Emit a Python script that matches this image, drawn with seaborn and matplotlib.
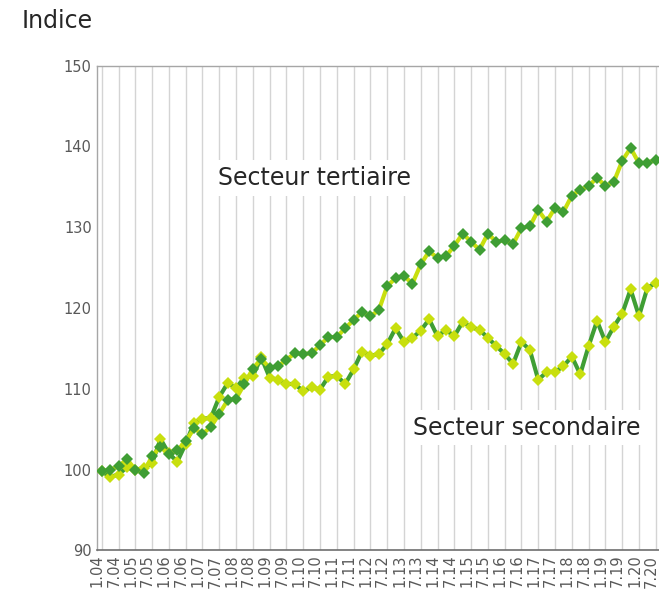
"""Indice tertiaire / secondaire, séries trimestrielles 2004-2020."""

import numpy as np
import pandas as pd
import matplotlib
matplotlib.use("Agg")
import matplotlib.pyplot as plt
import matplotlib.transforms as mtransforms
import seaborn as sns

# étiquettes semestrielles de l'axe x (un trimestre sur deux)
annees = list(range(2004, 2021))
etiquettes = [f"{m}.{a % 100:02d}" for a in annees for m in (1, 7)]

tertiaire = [
    99.8, 100.0, 100.4, 101.3, 100.0, 99.6, 101.7, 102.8, 101.9, 102.4,
    103.5, 105.1, 104.4, 105.3, 106.9, 108.6, 108.8, 110.6, 112.5, 113.7,
    112.6, 112.8, 113.6, 114.4, 114.3, 114.4, 115.4, 116.4, 116.4, 117.5,
    118.5, 119.5, 119.0, 119.7, 122.7, 123.7, 124.0, 123.0, 125.4, 127.0,
    126.2, 126.4, 127.7, 129.2, 128.2, 127.2, 129.2, 128.2, 128.4, 127.9,
    129.9, 130.1, 132.1, 130.7, 132.4, 131.9, 133.9, 134.6, 135.1, 136.1,
    135.1, 135.6, 138.2, 139.8, 137.9, 138.0, 138.3,
]
secondaire = [
    99.8, 99.1, 99.4, 100.3, 100.0, 100.2, 100.8, 103.8, 102.0, 101.0,
    103.2, 105.8, 106.3, 106.4, 109.0, 110.7, 110.1, 111.4, 111.6, 113.9,
    111.4, 111.1, 110.6, 110.6, 109.7, 110.2, 109.9, 111.5, 111.6, 110.6,
    112.4, 114.6, 114.1, 114.3, 115.5, 117.5, 115.8, 116.3, 117.2, 118.6,
    116.5, 117.3, 116.5, 118.3, 117.6, 117.3, 116.3, 115.3, 114.3, 113.1,
    115.8, 114.8, 111.1, 112.1, 112.1, 112.8, 114.0, 111.8, 115.3, 118.4,
    115.8, 117.7, 119.3, 122.3, 119.0, 122.5, 123.1,
]

VERT  = "#3f9e34"
JAUNE = "#c8df0e"

df = pd.DataFrame({
    "t": np.arange(len(tertiaire)),
    "tertiaire": tertiaire,
    "secondaire": secondaire,
})

sns.set_style("white")
plt.rcParams["font.family"] = ["DejaVu Sans"]

fig = plt.figure(figsize=(6.59, 5.95), dpi=100)
ax = fig.add_axes([0.1477, 0.0748, 0.8524, 0.8151])

sns.lineplot(data=df, x="t", y="secondaire", ax=ax, color=VERT, linewidth=3,
             marker="D", markersize=6.6, markerfacecolor=JAUNE,
             markeredgewidth=0, zorder=3)
sns.lineplot(data=df, x="t", y="tertiaire", ax=ax, color=JAUNE, linewidth=3,
             marker="D", markersize=6.6, markerfacecolor=VERT,
             markeredgewidth=0, zorder=4)

ax.set_xlim(-0.524, 66.39)
ax.set_ylim(90, 150)
ax.set_xticks(np.arange(0, len(tertiaire), 2))
ax.set_xticklabels(etiquettes, rotation=90)
ax.set_yticks(range(90, 151, 10))
ax.set_xlabel("")
ax.set_ylabel("")
ax.grid(axis="x", color="#d4d4d4", linewidth=1)
ax.grid(axis="y", visible=False)
ax.set_axisbelow(True)
ax.tick_params(axis="both", length=0, labelsize=10.5, labelcolor="#595959")
ax.tick_params(axis="y", pad=4)
ax.tick_params(axis="x", pad=3)

# les étiquettes x sont un peu à gauche des lignes de grille
decalage = mtransforms.ScaledTranslation(-0.045, 0, fig.dpi_scale_trans)
for lbl in ax.get_xticklabels():
    lbl.set_transform(lbl.get_transform() + decalage)

for side in ["top", "left"]:
    ax.spines[side].set_color("#a6a6a6")
    ax.spines[side].set_linewidth(1)
ax.spines["bottom"].set_color("#6e6e6e")
ax.spines["bottom"].set_linewidth(1.2)
ax.spines["right"].set_visible(False)

boite = dict(facecolor="white", edgecolor="none", pad=4)
ax.text(13.86, 136.1, "Secteur tertiaire", fontsize=17, ha="left",
        va="center", bbox=boite, zorder=5)
ax.text(37.1, 105.2, "Secteur secondaire", fontsize=17, ha="left",
        va="center", bbox=boite, zorder=5)

fig.text(22 / 659, 1 - 21 / 595, "Indice", fontsize=17, ha="left", va="center")

plt.savefig("out.png", dpi=100)
plt.close()
